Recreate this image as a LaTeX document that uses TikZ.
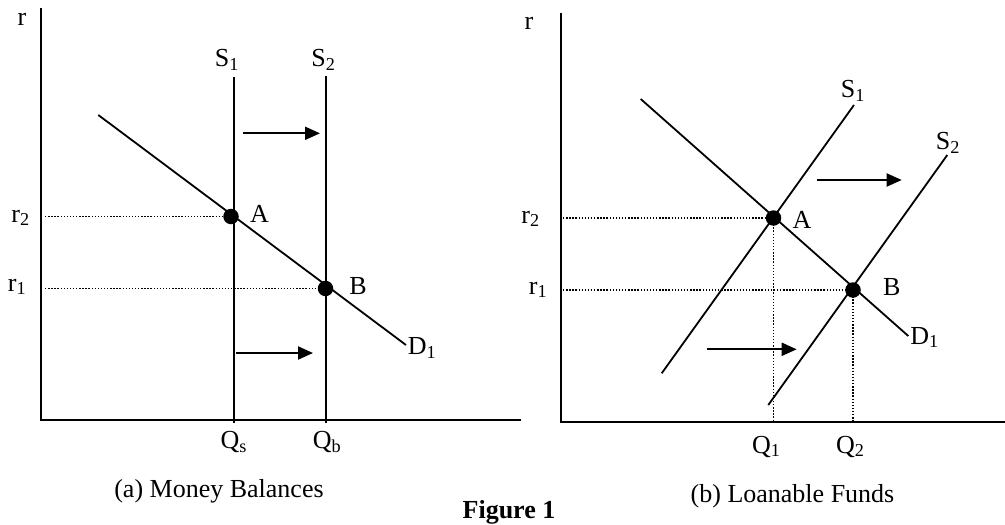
\documentclass[tikz,border=0pt]{standalone}
\usepackage{fontspec}
\setmainfont{Liberation Serif}
\usetikzlibrary{arrows.meta}
\begin{document}
\begin{tikzpicture}[x=1pt,y=-1pt,
  lbl/.style={font=\fontsize{26}{30}\selectfont, inner sep=0pt},
  axisline/.style={line width=2.3pt},
  curve/.style={line width=1.8pt},
  guide/.style={line width=1.4pt, dash pattern=on 1.4pt off 1.7pt},
  eqdot/.style={circle, fill=black, minimum size=15.5pt, inner sep=0pt},
  shiftarrow/.style={line width=2pt, -{Triangle[length=15pt,width=13pt]}}]
\useasboundingbox (0,0) rectangle (1005,525);

% ---------------- Panel (a) ----------------
\coordinate (aYtop) at (40.7,8);
\coordinate (aO) at (40.7,420);
\coordinate (aXend) at (521,420);
\draw[axisline] (aYtop) -- (aO) -- (aXend);

\coordinate (aS1top) at (234.3,77);
\coordinate (aS1bot) at (234.3,423);
\coordinate (aS2top) at (326,76);
\coordinate (aS2bot) at (326,423);
\coordinate (aDtop) at (98.3,115);
\coordinate (aDbot) at (406,345);
\draw[curve] (aS1top) -- (aS1bot);
\draw[curve] (aS2top) -- (aS2bot);
\draw[curve] (aDtop) -- (aDbot);

\coordinate (ar2) at (45,216.5);
\coordinate (ar1) at (45,288.5);
\node[eqdot] (aA) at (231,216.5) {};
\node[eqdot] (aB) at (325.5,288.5) {};
\draw[guide] (ar2) -- (aA.center);
\draw[guide] (ar1) -- (aB.center);

\coordinate (aU1) at (243,133.3);
\coordinate (aU2) at (320,133.3);
\coordinate (aL1) at (236,353);
\coordinate (aL2) at (313,353);
\draw[shiftarrow] (aU1) -- (aU2);
\draw[shiftarrow] (aL1) -- (aL2);

\node[lbl] (ar) at (22,19) {r};
\node[lbl] (aS1l) at (227,60) {S\textsubscript{1}};
\node[lbl] (aS2l) at (323.5,60) {S\textsubscript{2}};
\node[lbl] (aAl) at (259.5,214) {A};
\node[lbl] (aBl) at (358,286.5) {B};
\node[lbl] (aDl) at (422,348) {D\textsubscript{1}};
\node[lbl] (ar2l) at (20.5,218) {r\textsubscript{2}};
\node[lbl] (ar1l) at (17,287) {r\textsubscript{1}};
\node[lbl] (aQs) at (233.7,442) {Q\textsubscript{s}};
\node[lbl] (aQb) at (327,442) {Q\textsubscript{b}};
\node[lbl] (acap) at (219,491) {(a) Money Balances};

\node[lbl, font=\fontsize{26}{30}\selectfont\bfseries] (fig) at (509,512) {Figure 1};

% ---------------- Panel (b) ----------------
\coordinate (bYtop) at (560.7,12.7);
\coordinate (bO) at (560.7,422);
\coordinate (bXend) at (1005,422);
\draw[axisline] (bYtop) -- (bO) -- (bXend);

\coordinate (bS1bot) at (661.7,373.3);
\coordinate (bS1top) at (854,105);
\coordinate (bS2bot) at (768.3,405);
\coordinate (bS2top) at (947.3,155);
\coordinate (bDtop) at (640.7,99);
\coordinate (bDbot) at (908.3,336);
\draw[curve] (bS1bot) -- (bS1top);
\draw[curve] (bS2bot) -- (bS2top);
\draw[curve] (bDtop) -- (bDbot);

\coordinate (br2) at (563,218);
\coordinate (br1) at (563,290);
\node[eqdot] (bA) at (773.5,218) {};
\node[eqdot] (bB) at (853,290) {};
\coordinate (bQ1) at (772,422);
\coordinate (bQ2) at (854,422);
\draw[guide] (br2) -- (bA.center);
\draw[guide] (br1) -- (bB.center);
\draw[guide] (bA.center) -- (bA.center |- bQ1);
\draw[guide] (bB.center) -- (bB.center |- bQ2);

\coordinate (bU1) at (816.7,180);
\coordinate (bU2) at (901.7,180);
\coordinate (bL1) at (706.7,349.3);
\coordinate (bL2) at (796.7,349.3);
\draw[shiftarrow] (bU1) -- (bU2);
\draw[shiftarrow] (bL1) -- (bL2);

\node[lbl] (br) at (529,23) {r};
\node[lbl] (bS1l) at (853,91) {S\textsubscript{1}};
\node[lbl] (bS2l) at (948,143) {S\textsubscript{2}};
\node[lbl] (bAl) at (802,220) {A};
\node[lbl] (bBl) at (891.7,286.7) {B};
\node[lbl] (bDl) at (924.5,337.5) {D\textsubscript{1}};
\node[lbl] (br2l) at (530.5,219) {r\textsubscript{2}};
\node[lbl] (br1l) at (538,290) {r\textsubscript{1}};
\node[lbl] (bQ1l) at (766.3,446.7) {Q\textsubscript{1}};
\node[lbl] (bQ2l) at (850.3,446.7) {Q\textsubscript{2}};
\node[lbl] (bcap) at (792.5,496) {(b) Loanable Funds};
\end{tikzpicture}
\end{document}
